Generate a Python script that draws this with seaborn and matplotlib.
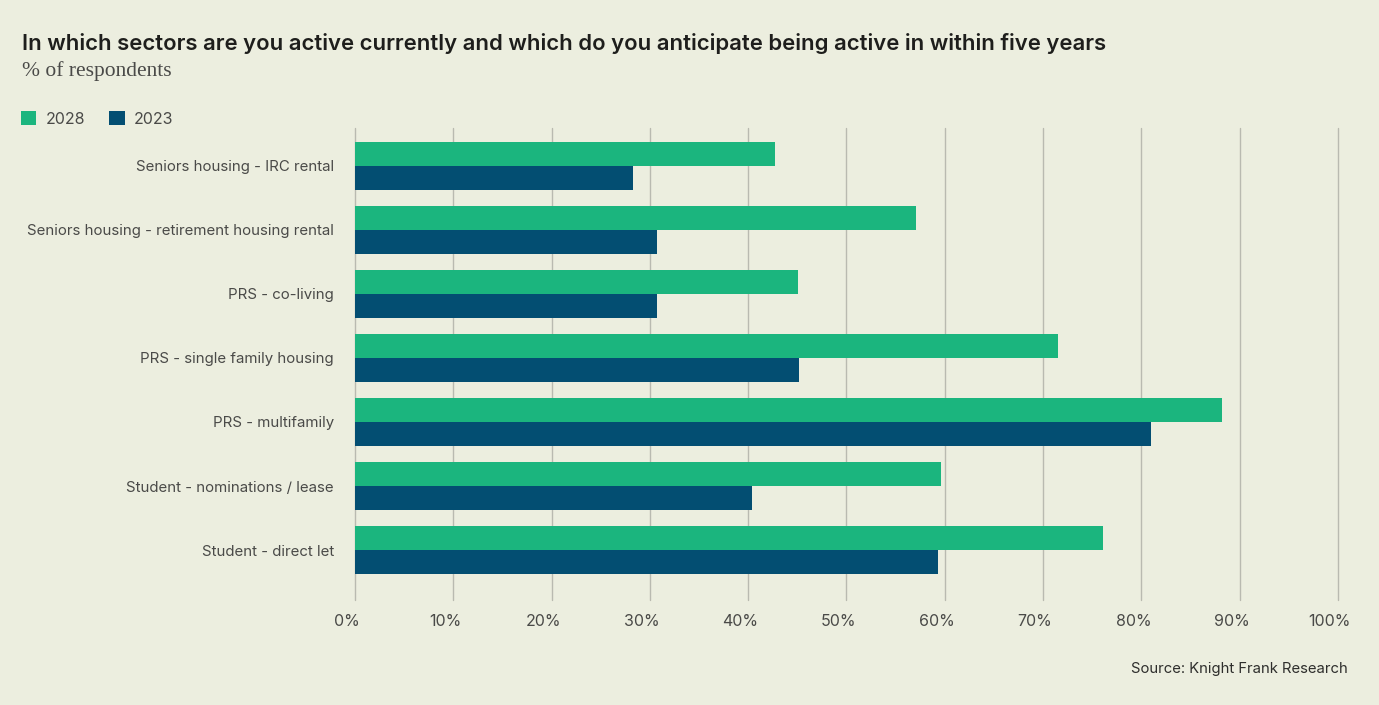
import numpy as np
import pandas as pd
import matplotlib
matplotlib.use("Agg")
import matplotlib.pyplot as plt
import matplotlib.transforms as mtransforms
from matplotlib.patches import Patch
import seaborn as sns

# Daten
sectors = [
    "Seniors housing - IRC rental",
    "Seniors housing - retirement housing rental",
    "PRS - co-living",
    "PRS - single family housing",
    "PRS - multifamily",
    "Student - nominations / lease",
    "Student - direct let",
]
share_2028 = [42.7, 57.1, 45.1, 71.5, 88.2, 59.6, 76.1]
share_2023 = [28.3, 30.7, 30.7, 45.2, 81.0, 40.4, 59.3]
years = ["2028", "2023"]
xticks = [0, 10, 20, 30, 40, 50, 60, 70, 80, 90, 100]

bg = "#ECEEDF"
green = "#1BB57E"
navy = "#034E72"
text_col = "#4A4A48"

df = pd.DataFrame({
    "sector": sectors * 2,
    "year": ["2028"] * len(sectors) + ["2023"] * len(sectors),
    "value": share_2028 + share_2023,
})

sns.set_style("white")
plt.rcParams["font.family"] = ["Inter", "DejaVu Sans"]

fig = plt.figure(figsize=(13.79, 7.05), dpi=100, facecolor=bg)
ax = fig.add_axes([0.2574, 0.1489, 0.7128, 0.6695])
ax.set_facecolor(bg)

sns.barplot(data=df, y="sector", x="value", hue="year", order=sectors,
            hue_order=years, palette={"2028": green, "2023": navy},
            width=0.75, saturation=1, linewidth=0, ax=ax, legend=False, orient="h")

ax.set_xlim(0, 100)
ax.set_ylim(6.78, -0.59)
ax.set_xticks(xticks)
ax.set_xticklabels([f"{t}%" for t in xticks], fontsize=11.5, color=text_col)
ax.tick_params(axis="x", length=0, pad=10)
ax.tick_params(axis="y", length=0, pad=15, labelsize=10.8, labelcolor=text_col)
ax.grid(axis="x", color="#B9BAB0", linewidth=1)
for gl in ax.get_xgridlines():
    gl.set_clip_on(False)
ax.set_axisbelow(True)
for s in ax.spines.values():
    s.set_visible(False)
ax.set_xlabel("")
ax.set_ylabel("")

# x-Beschriftungen leicht nach links versetzen
shift = mtransforms.ScaledTranslation(-8 / 100, 0, fig.dpi_scale_trans)
for lbl in ax.get_xticklabels():
    lbl.set_transform(lbl.get_transform() + shift)

# Titel und Untertitel
fig.text(0.016, 0.929, "In which sectors are you active currently and which do you anticipate being active in within five years",
         fontsize=15.9, fontweight="semibold", color="#1E1E1C", ha="left", va="baseline")
fig.text(0.016, 0.892, "% of respondents", fontsize=15.5, color=text_col,
         family=["Liberation Serif", "DejaVu Serif"], ha="left", va="baseline")

# Legende
handles = [Patch(facecolor=green, edgecolor="none", label="2028"),
           Patch(facecolor=navy, edgecolor="none", label="2023")]
fig.legend(handles=handles, loc="center left", bbox_to_anchor=(0.005, 0.831),
           ncol=2, frameon=False, fontsize=11.5, labelcolor=text_col,
           handlelength=0.95, handleheight=0.95, handletextpad=0.6, columnspacing=1.5)

fig.text(0.9775, 0.046, "Source: Knight Frank Research", fontsize=10.7,
         color="#2E2E2C", ha="right", va="baseline")

fig.savefig("out.png", dpi=100, facecolor=bg)
